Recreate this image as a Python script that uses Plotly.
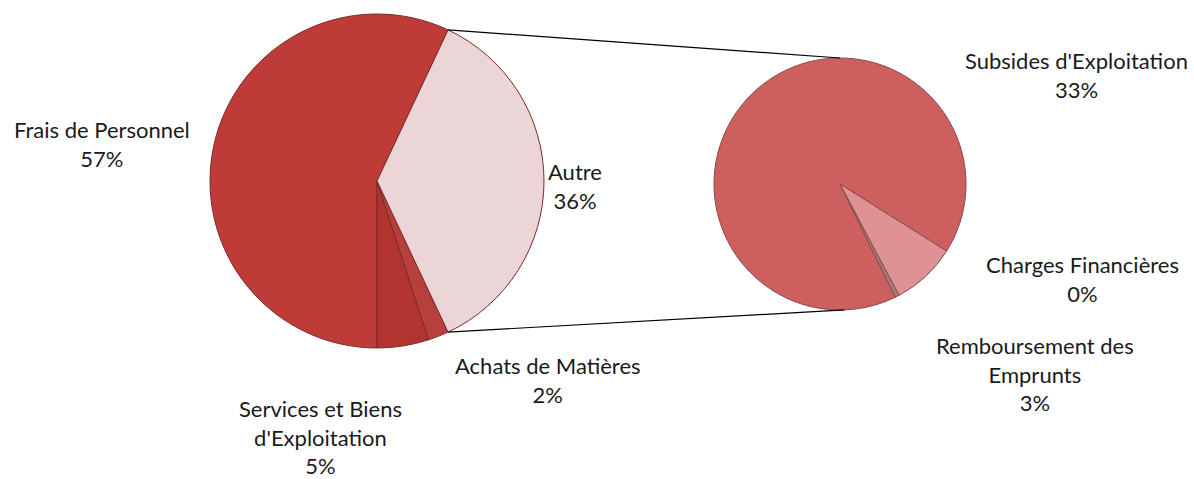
import math
import plotly.graph_objects as go

# ---- data ----
main_labels = ["Frais de Personnel", "Services et Biens d'Exploitation", "Achats de Matières", "Autre"]
main_values = [57, 5, 2, 36]
main_text = ["Frais de Personnel<br>57%", "Services et Biens<br>d'Exploitation<br>5%", "Achats de Matières<br>2%", "Autre<br>36%"]

sec_labels = ["Subsides d'Exploitation", "Charges Financières", "Remboursement des Emprunts"]
sec_values = [33, 0.2, 3]
sec_text = ["Subsides d'Exploitation<br>33%", "Charges Financières<br>0%", "Remboursement des<br>Emprunts<br>3%"]

# ---- layout geometry ----
W, H = 1194, 479
main_c, main_r = (377, 181), 167
sec_c, sec_r = (840, 184), 126

main_colors = ["#BE3B37", "#B23431", "#B7403C", "#EBD5D6"]
sec_colors = ["#CD605F", "#A07C7C", "#DE9294"]


def dom(c, r):
    cx, cy = c
    return dict(x=[(cx - r) / W, (cx + r) / W], y=[(H - cy - r) / H, (H - cy + r) / H])


fig = go.Figure()
fig.add_trace(go.Pie(
    labels=main_labels, values=main_values, sort=False, direction="counterclockwise",
    rotation=180, textinfo="none", hoverinfo="label+percent",
    marker=dict(colors=main_colors, line=dict(color="#7a2a28", width=1)),
    domain=dom(main_c, main_r), showlegend=False,
))
fig.add_trace(go.Pie(
    labels=sec_labels, values=sec_values, sort=False, direction="counterclockwise",
    rotation=154, textinfo="none", hoverinfo="label",
    marker=dict(colors=sec_colors, line=dict(color="#8a4a4a", width=1)),
    domain=dom(sec_c, sec_r), showlegend=False,
))

# connector lines from the "Autre" slice edges to the secondary pie
tot = sum(main_values)
autre_span = main_values[3] / tot * 360
a_top = 180 - sum(main_values[1:3]) / tot * 360 - autre_span
a_bot = a_top + autre_span


def pt(c, r, ang):
    a = math.radians(ang)
    return c[0] + r * math.sin(a), c[1] - r * math.cos(a)


p1 = pt(main_c, main_r, a_top)
p2 = pt(main_c, main_r, a_bot)
q1 = pt(sec_c, sec_r, 0)
q2 = pt(sec_c, sec_r, 178)
for (x0, y0), (x1, y1) in [(p1, q1), (p2, q2)]:
    fig.add_shape(type="line", xref="paper", yref="paper",
                  x0=x0 / W, y0=1 - y0 / H, x1=x1 / W, y1=1 - y1 / H,
                  line=dict(color="black", width=1.2))

# labels
label_pos = {
    "Frais de Personnel": (102, 144),
    "Services et Biens d'Exploitation": (320, 437),
    "Achats de Matières": (548, 380),
    "Autre": (575, 186),
    "Subsides d'Exploitation": (1076, 75),
    "Charges Financières": (1082, 279),
    "Remboursement des Emprunts": (1035, 374),
}
for lab, txt in zip(main_labels + sec_labels, main_text + sec_text):
    x, y = label_pos[lab]
    fig.add_annotation(x=x / W, y=1 - y / H, xref="paper", yref="paper", text=txt,
                       showarrow=False, align="center", xanchor="center", yanchor="middle",
                       font=dict(family="Lato", size=22, color="#1a1a1a"))

fig.update_layout(width=W, height=H, margin=dict(l=0, r=0, t=0, b=0),
                  paper_bgcolor="white", plot_bgcolor="white")
fig.write_html("out.html", config={"displayModeBar": False},
               post_script="document.body.style.margin='0';")
